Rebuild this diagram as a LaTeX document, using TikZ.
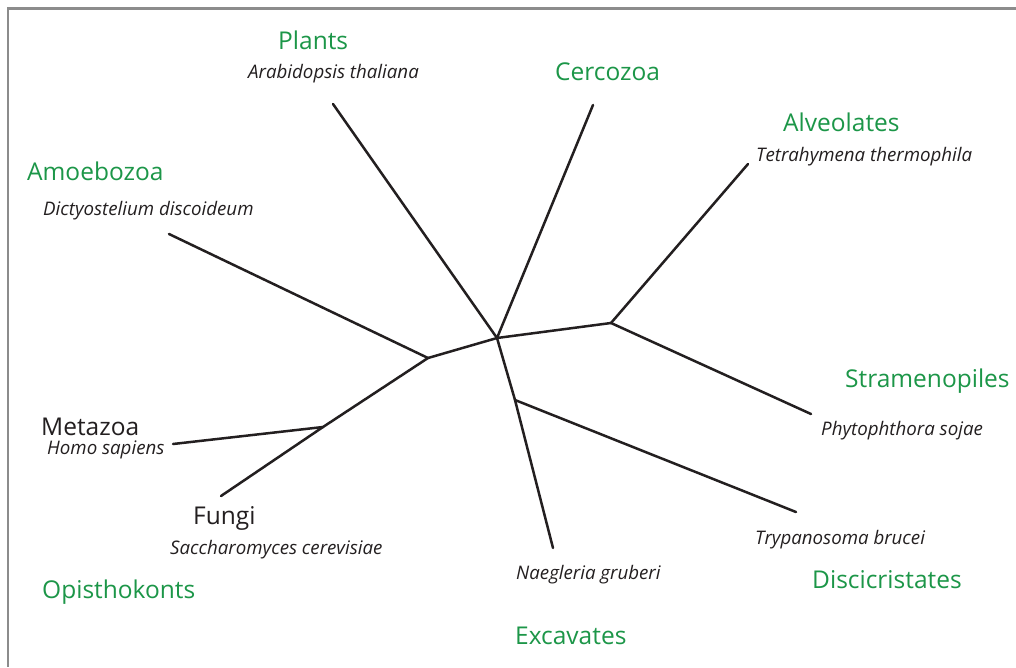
\documentclass[tikz,border=0pt]{standalone}
\usepackage{fontspec}
\setmainfont{Open Sans}
\definecolor{cladegreen}{RGB}{28,150,72}
\definecolor{inkblack}{RGB}{35,31,32}
\definecolor{framegray}{RGB}{140,140,140}
\tikzset{
  clade/.style={anchor=west, inner sep=0pt, text=cladegreen, font=\fontsize{24.5}{28}\selectfont},
  species/.style={anchor=west, inner sep=0pt, text=inkblack, font=\fontsize{18.7}{22}\selectfont\itshape},
  group/.style={anchor=west, inner sep=0pt, text=inkblack, font=\fontsize{24.5}{28}\selectfont},
  branch/.style={line width=2.5pt, draw=inkblack, line cap=round},
}
\begin{document}
\begin{tikzpicture}[x=1pt, y=-1pt]
\useasboundingbox (0,0) rectangle (1016,667);
\fill[white] (0,0) rectangle (1016,667);
% frame
\coordinate (ftl) at (8,8);
\coordinate (ftr) at (1016,8);
\coordinate (fbl) at (8,667);
\draw[framegray, line width=3pt] (7,8) -- (ftr);
\draw[framegray, line width=1.5pt] (ftl) -- (fbl);

% internal nodes
\coordinate (C) at (497,338);
\coordinate (L) at (428,358);
\coordinate (O) at (323,427);
\coordinate (R) at (611,323);
\coordinate (E) at (515,400);
% leaves
\coordinate (plants) at (333,104);
\coordinate (cerco) at (593,105);
\coordinate (alveo) at (748,164);
\coordinate (stram) at (811,414);
\coordinate (disci) at (796,512);
\coordinate (naeg) at (553,548);
\coordinate (amoeb) at (169,234);
\coordinate (meta) at (173,444);
\coordinate (fungi) at (221,496);

\draw[branch] (plants) -- (C);
\draw[branch] (cerco) -- (C);
\draw[branch] (C) -- (R);
\draw[branch] (R) -- (alveo);
\draw[branch] (R) -- (stram);
\draw[branch] (C) -- (E);
\draw[branch] (E) -- (naeg);
\draw[branch] (E) -- (disci);
\draw[branch] (C) -- (L);
\draw[branch] (L) -- (amoeb);
\draw[branch] (L) -- (O);
\draw[branch] (O) -- (meta);
\draw[branch] (O) -- (fungi);

% labels
\node[clade] (tPlants) at (278,40) {Plants};
\node[species] (tArab) at (248,74) {Arabidopsis thaliana};
\node[clade] (tCerco) at (555,72) {Cercozoa};
\node[clade] (tAlveo) at (783,122) {Alveolates};
\node[species] (tTetra) at (756,157) {Tetrahymena thermophila};
\node[clade] (tAmoeb) at (27,171) {Amoebozoa};
\node[species] (tDicty) at (43,211) {Dictyostelium discoideum};
\node[clade] (tStram) at (845,381) {Stramenopiles};
\node[species] (tPhyto) at (821,431) {Phytophthora sojae};
\node[group] (tMeta) at (41,427) {Metazoa};
\node[species] (tHomo) at (47,450) {Homo sapiens};
\node[group] (tFungi) at (193,518) {Fungi};
\node[species] (tSacch) at (170,550) {Saccharomyces cerevisiae};
\node[clade] (tOpist) at (42,592) {Opisthokonts};
\node[species] (tNaeg) at (516,575) {Naegleria gruberi};
\node[species] (tTrypa) at (755,540) {Trypanosoma brucei};
\node[clade] (tDisci) at (812,580) {Discicristates};
\node[clade] (tExcav) at (515,636) {Excavates};
\end{tikzpicture}
\end{document}
